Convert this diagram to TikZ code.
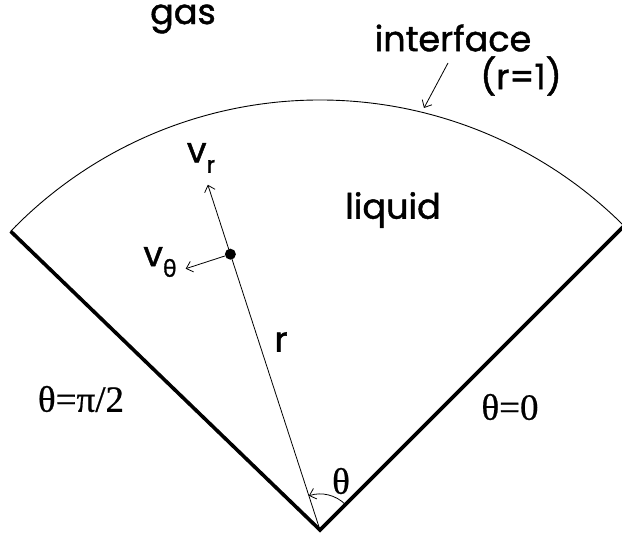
\documentclass[tikz,border=0pt]{standalone}
\usepackage{fontspec}
\setmainfont{Poppins}
\newfontfamily\geo{Poppins}[FakeBold=1.3]
\newfontfamily\tms{Liberation Serif}[FakeBold=0.6]
\newfontfamily\grk{Open Sans}[FakeBold=1.3]
\usetikzlibrary{arrows.meta}

\newcommand{\sub}[1]{\raisebox{-0.3em}{\fontsize{23}{23}\selectfont #1}}

\begin{document}
\begin{tikzpicture}[x=1pt, y=1pt,
    wall/.style={line width=3.6pt, line join=miter},
    rim/.style={line width=0.9pt},
    vec/.style={line width=0.8pt, -{Straight Barb[length=6pt,width=11pt]}},
    sanslabel/.style={font=\geo\fontsize{35}{35}\selectfont, inner sep=0pt},
    seriflabel/.style={font=\tms\fontsize{37}{37}\selectfont, inner sep=0pt}]
    \useasboundingbox (0,0) rectangle (622,541);
    % wedge: apex, side walls and the interface
    \coordinate (O) at (320,11);
    \coordinate (L) at ([shift={(136:430)}]O);
    \coordinate (R) at ([shift={(45:430)}]O);
    \draw[wall] (L) -- (O) -- (R);
    \draw[rim] (R) arc[start angle=45, end angle=136, radius=430];
    % radial line and velocity components
    \coordinate (tipr) at ([shift={(108:363)}]O);
    \node[circle, fill, inner sep=0pt, minimum size=11pt] (dot) at ([shift={(108:290)}]O) {};
    \draw[vec] (O) -- (tipr);
    \coordinate (tipt) at ([shift={(198:47)}]dot.center);
    \draw[vec] (dot) -- (tipt);
    % angle
    \draw[vec] ([shift={(45:36)}]O) arc[start angle=45, end angle=108, radius=36];
    % labels
    \node[sanslabel] (gas) at (183,522) {gas};
    \node[sanslabel] (liquid) at (393,331) {liquid};
    \node[sanslabel] (iface) at (453,503) {interface};
    \node[sanslabel] (rone) at (521,465) {(r=1)};
    \node[sanslabel] (vr) at (201,383) {v\sub{r}};
    \node[sanslabel] (vt) at (160,279) {v\sub{\grk θ}};
    \node[sanslabel] (rlab) at (281,199) {r};
    \node[seriflabel] (left) at (81,142) {θ=π/2};
    \node[seriflabel] (right) at (510,134) {θ=0};
    \node[seriflabel] (ang) at (341,60) {θ};
    \coordinate (ifcfrom) at (448,478);
    \coordinate (ifcto) at (424,433);
    \draw[vec] (ifcfrom) -- (ifcto);
\end{tikzpicture}
\end{document}
